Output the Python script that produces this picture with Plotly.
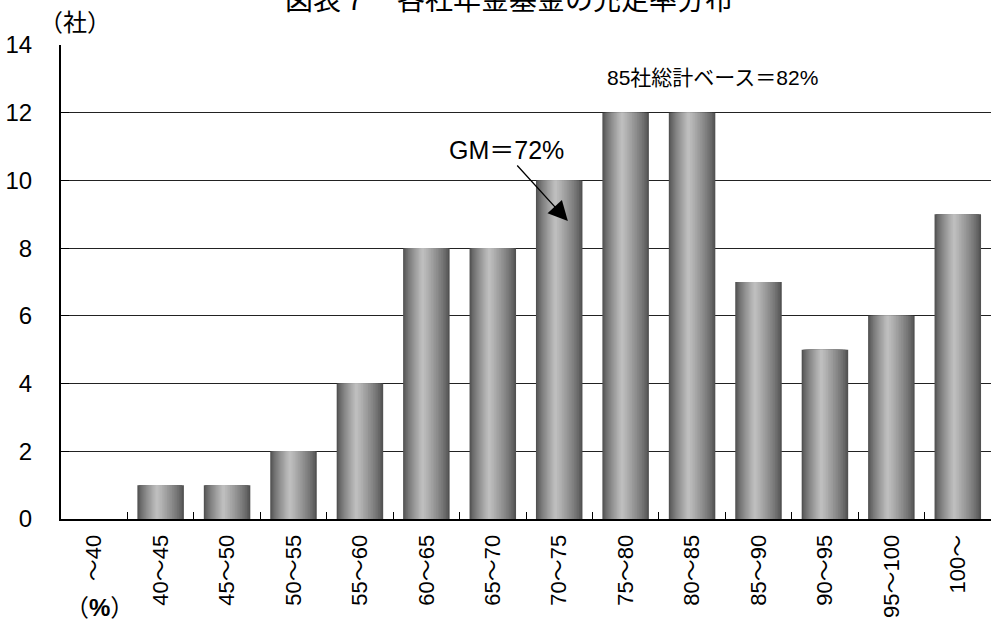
import plotly.graph_objects as go

categories = ["〜40", "40〜45", "45〜50", "50〜55", "55〜60", "60〜65", "65〜70",
              "70〜75", "75〜80", "80〜85", "85〜90", "90〜95", "95〜100", "100〜"]
counts = [0, 1, 1, 2, 4, 8, 8, 10, 12, 12, 7, 5, 6, 9]
y_ticks = [0, 2, 4, 6, 8, 10, 12, 14]

title_text = "図表７　各社年金基金の充足率分布"
gm_text = "GM＝72%"
total_text = "85社総計ベース＝82%"
y_unit = "（社）"
x_unit = "（<b>%</b>）"

FONT = "Liberation Sans, Arial, Noto Sans CJK JP, sans-serif"

fig = go.Figure()

# cylinder-like gradient: nested overlaid bars, dark edges -> light ridge
bar_w = 0.70
peak = 0.42  # relative position of the brightest band from left edge
n_layers = 16
dark, light = 82, 196
for k in range(n_layers):
    f = k / n_layers
    left = -bar_w / 2 + f * peak * bar_w
    right = bar_w / 2 - f * (1 - peak) * bar_w
    g = int(round(dark + (light - dark) * (f ** 0.8)))
    fig.add_trace(go.Bar(
        x=categories, y=counts,
        width=right - left, offset=left,
        marker=dict(color=f"rgb({g},{g},{g})", line=dict(width=0)),
        hoverinfo="skip", showlegend=False,
    ))

fig.update_layout(
    barmode="overlay",
    width=991, height=620,
    margin=dict(l=61, r=0, t=45, b=101, autoexpand=False),
    paper_bgcolor="white", plot_bgcolor="white",
    font=dict(family=FONT, color="black", size=20),
    showlegend=False,
    title=dict(text=title_text, x=509 / 991, xanchor="center", xref="container",
               y=1.0, yref="container", yanchor="middle",
               font=dict(size=28, family=FONT, color="black")),
)

fig.update_xaxes(
    type="category", categoryorder="array", categoryarray=categories,
    tickson="boundaries", ticks="inside", ticklen=7, tickcolor="black", tickwidth=1,
    tickangle=-90, tickfont=dict(size=22, family=FONT),
    showline=True, linecolor="black", linewidth=2,
    showgrid=False, automargin=False, ticklabelstandoff=5,
    range=[-0.5, len(categories) - 0.5],
)
fig.update_yaxes(
    range=[0, 14], tickvals=y_ticks, ticktext=[str(v) for v in y_ticks],
    ticks="inside", ticklen=8, tickcolor="black", tickwidth=1,
    tickfont=dict(size=24, family=FONT),
    showline=True, linecolor="black", linewidth=2,
    showgrid=True, gridcolor="#222222", gridwidth=1,
    zeroline=False, automargin=False, ticklabelstandoff=22,
)

# GM label + arrow
fig.add_annotation(x=7.13, y=8.8, xref="x", yref="y",
                   text="", showarrow=True, arrowhead=2, arrowsize=3,
                   arrowwidth=1.3, arrowcolor="black", ax=-52, ay=-57)
fig.add_annotation(x=6.2, y=10.9, xref="x", yref="y", text=gm_text,
                   showarrow=False, font=dict(size=25, family=FONT))
fig.add_annotation(x=9.3, y=13.03, xref="x", yref="y", text=total_text,
                   showarrow=False, font=dict(size=21, family=FONT))

# unit labels (positions given in pixels, converted to paper coords)
pw, ph = 991 - 61 - 0, 620 - 45 - 101
for txt, px, py in [(y_unit, 75, 22), (x_unit, 99, 607)]:
    fig.add_annotation(x=(px - 61) / pw, y=(620 - 101 - py) / ph,
                       xref="paper", yref="paper", text=txt, showarrow=False,
                       xanchor="center", yanchor="middle",
                       font=dict(size=24, family=FONT))

fig.write_html("out.html")
